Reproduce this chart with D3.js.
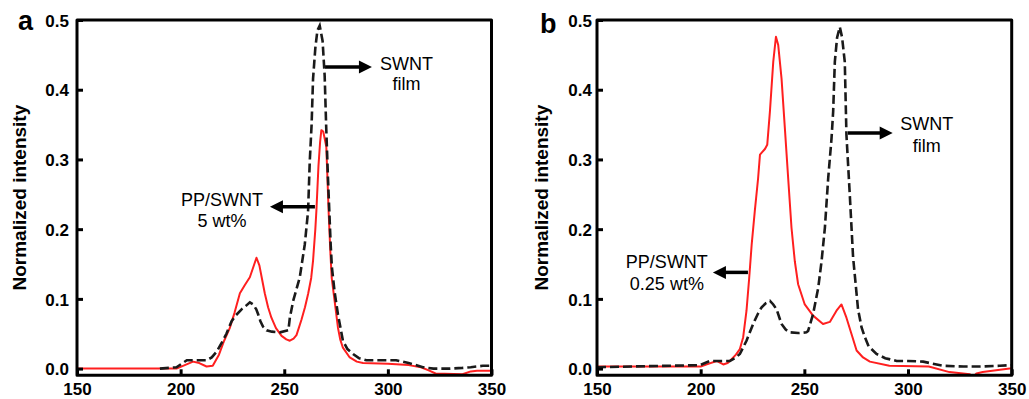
<!DOCTYPE html>
<html>
<head>
<meta charset="utf-8">
<script src="https://cdn.jsdelivr.net/npm/d3@7"></script>
<style>
  html, body { margin: 0; padding: 0; background: #fff; }
  svg { display: block; }
  text { font-family: Arial, "Liberation Sans", sans-serif; }
</style>
</head>
<body>
<svg id="chart" width="1029" height="399"></svg>
<script>
// ---------- data ----------
const xTicks = [150, 200, 250, 300, 350];
const yTicks = [0.0, 0.1, 0.2, 0.3, 0.4, 0.5];
const yTitle = "Normalized intensity";

// Panel a
const aPPSWNT = [[150,0],[198,0],[202,0.005],[206,0.010],[209,0.008],[212.5,0.003],[215.5,0.004],[218.5,0.02],[221,0.04],[223.7,0.058],[226,0.08],[228.6,0.108],[231,0.120],[233.4,0.131],[235,0.145],[236.6,0.159],[238,0.148],[239.5,0.125],[240.6,0.108],[242.2,0.088],[243.8,0.073],[246,0.058],[248.7,0.047],[251,0.042],[252.7,0.040],[254.5,0.043],[255.9,0.048],[257,0.058],[258.3,0.070],[260,0.088],[261.5,0.107],[263,0.13],[263.9,0.155],[265,0.20],[265.5,0.226],[266.5,0.29],[267.3,0.325],[267.9,0.342],[268.8,0.34],[269.5,0.33],[270.3,0.318],[271,0.26],[271.4,0.226],[272.2,0.17],[272.9,0.13],[274.3,0.097],[275.9,0.059],[277,0.042],[278.3,0.030],[281.6,0.016],[285,0.010],[288,0.008],[300,0.007],[310,0.005],[316,0.002],[320,-0.003],[323,-0.007],[336,-0.008],[340,-0.004],[343,-0.003],[350,-0.003]];
const aFilm = [[190,0],[198,0.002],[201,0.008],[203,0.012],[208,0.012],[212.5,0.012],[215,0.016],[217.3,0.024],[220,0.038],[222.1,0.05],[224.6,0.068],[226.5,0.076],[229.4,0.085],[231.5,0.09],[233.4,0.095],[235,0.092],[236.5,0.085],[237.4,0.078],[238.5,0.068],[239.8,0.06],[241.5,0.055],[244,0.053],[248,0.052],[252,0.055],[252.7,0.073],[254.3,0.097],[257.5,0.131],[259.9,0.178],[261.5,0.226],[262.3,0.297],[263.2,0.35],[263.9,0.416],[265,0.46],[266,0.485],[267.1,0.492],[268.5,0.47],[269.5,0.42],[270.2,0.35],[271.1,0.273],[272.4,0.178],[273,0.145],[274.3,0.11],[275.9,0.078],[278.3,0.040],[280.5,0.028],[283.2,0.021],[286,0.015],[289.6,0.012],[296,0.012],[304,0.012],[310,0.008],[316.9,0.002],[322,0.0],[330,0.0],[336,0.001],[340,0.002],[345.8,0.004],[350,0.004]];

// Panel b
const bPPSWNT = [[150,0.003],[200,0.003],[203,0.006],[207.7,0.011],[210.9,0.006],[213,0.008],[214.1,0.011],[217,0.02],[218.9,0.028],[220.5,0.045],[222.1,0.083],[223.4,0.130],[224.6,0.178],[226.1,0.226],[227.7,0.273],[228.6,0.307],[231,0.315],[232.1,0.321],[233.4,0.369],[235,0.44],[236.3,0.476],[237.4,0.464],[239,0.416],[240.6,0.345],[242.2,0.273],[243.8,0.202],[245.4,0.154],[247,0.121],[250.2,0.092],[254.2,0.076],[259,0.064],[262.3,0.067],[265.5,0.083],[267.9,0.092],[270.3,0.073],[272.7,0.05],[275.2,0.026],[278.3,0.016],[281.6,0.010],[291,0.004],[310,0.003],[320,-0.005],[329.8,-0.008],[331.4,-0.012],[333,-0.007],[336,-0.005],[349,0.0],[350,0.001]];
const bFilm = [[150,0.002],[199.6,0.005],[204.5,0.011],[210,0.011],[214.1,0.011],[216.5,0.015],[218.9,0.021],[222.1,0.040],[225.3,0.064],[227.5,0.078],[229.4,0.088],[231.5,0.094],[233.4,0.097],[235,0.092],[236.6,0.085],[239,0.064],[241,0.056],[243,0.052],[247,0.051],[251,0.052],[251.8,0.054],[254.2,0.078],[256.7,0.116],[258.3,0.154],[259.9,0.202],[261.5,0.273],[263.1,0.33],[263.9,0.369],[264.7,0.44],[265.8,0.475],[267.1,0.49],[268.2,0.475],[269.5,0.44],[270.3,0.335],[271.9,0.25],[273.5,0.16],[275.2,0.107],[275.9,0.085],[277.6,0.059],[279.2,0.045],[281,0.032],[284.8,0.021],[289,0.015],[294.5,0.011],[300,0.011],[307.3,0.010],[312,0.007],[317,0.004],[326.7,0.003],[335,0.003],[344.2,0.004],[350,0.005]];

// Annotations (data units): label lines, text anchor point, arrow from -> to
const aFilmNote = {lines: ["SWNT", "film"], x: 309, y: [0.428, 0.400], arrow: [[269.7, 0.4325], [292.3, 0.4325]]};
const aPPNote   = {lines: ["PP/SWNT", "5 wt%"], x: 220, y: [0.233, 0.203], arrow: [[264.8, 0.232], [243.1, 0.232]]};
const bFilmNote = {lines: ["SWNT", "film"], x: 309, y: [0.342, 0.310], arrow: [[271, 0.338], [292.6, 0.338]]};
const bPPNote   = {lines: ["PP/SWNT", "0.25 wt%"], x: 183.7, y: [0.145, 0.1125], arrow: [[222.8, 0.138], [205.9, 0.138]]};

// ---------- drawing ----------
const svg = d3.select("#chart");

const panels = [
  {label: "a", labelX: 18, labelY: 30, left: 77, right: 491.5, titleX: 26, labPad: 8,
   pp: aPPSWNT, film: aFilm, notes: [aFilmNote, aPPNote]},
  {label: "b", labelX: 540, labelY: 33, left: 597, right: 1011.7, titleX: 548, labPad: 5,
   pp: bPPSWNT, film: bFilm, notes: [bFilmNote, bPPNote]}
];

const plotTop = 20, plotBottom = 375.3;

panels.forEach(p => {
  const x = d3.scaleLinear().domain([150, 350]).range([p.left, p.right]);
  const y = d3.scaleLinear().domain([-0.0096, 0.5]).range([plotBottom, plotTop]);
  const g = svg.append("g");

  const clipId = "clip-" + p.label;
  svg.append("clipPath").attr("id", clipId).append("rect")
    .attr("x", p.left).attr("y", plotTop - 5).attr("width", p.right - p.left).attr("height", plotBottom - plotTop + 5);

  const line = d3.line().x(d => x(d[0])).y(d => y(d[1]));

  // curves
  g.append("path").datum(p.pp)
    .attr("d", line).attr("fill", "none")
    .attr("stroke", "#ff1f1f").attr("stroke-width", 2)
    .attr("stroke-linejoin", "round")
    .attr("clip-path", `url(#${clipId})`);
  g.append("path").datum(p.film)
    .attr("d", line).attr("fill", "none")
    .attr("stroke", "#1a1a1a").attr("stroke-width", 2.6)
    .attr("stroke-dasharray", "9,4")
    .attr("clip-path", `url(#${clipId})`);

  // frame
  g.append("rect")
    .attr("x", p.left).attr("y", plotTop)
    .attr("width", p.right - p.left).attr("height", plotBottom - plotTop)
    .attr("fill", "none").attr("stroke", "#000").attr("stroke-width", 3)
    .attr("stroke-linejoin", "round");

  // y axis
  const yAxis = d3.axisLeft(y).tickValues(yTicks).tickFormat(d3.format(".1f"))
    .tickSizeInner(-6).tickSizeOuter(0).tickPadding(p.labPad);
  const ya = g.append("g").attr("transform", `translate(${p.left},0)`).call(yAxis);
  ya.select(".domain").remove();
  ya.selectAll(".tick line").attr("stroke", "#000").attr("stroke-width", 3);
  ya.selectAll(".tick text").attr("font-family", "Arial, 'Liberation Sans', sans-serif")
    .attr("font-size", 17).attr("font-weight", "bold").attr("fill", "#000")
    .attr("dy", "0.36em");

  // x axis
  const xAxis = d3.axisBottom(x).tickValues(xTicks).tickFormat(d3.format("d"))
    .tickSizeInner(-6).tickSizeOuter(0).tickPadding(7.5);
  const xa = g.append("g").attr("transform", `translate(0,${plotBottom})`).call(xAxis);
  xa.select(".domain").remove();
  xa.selectAll(".tick line").attr("stroke", "#000").attr("stroke-width", 3);
  xa.selectAll(".tick text").attr("font-family", "Arial, 'Liberation Sans', sans-serif")
    .attr("font-size", 17).attr("font-weight", "bold").attr("fill", "#000");

  // y title
  g.append("text")
    .attr("transform", `translate(${p.titleX},${(plotTop + plotBottom) / 2}) rotate(-90)`)
    .attr("text-anchor", "middle")
    .attr("font-size", 19).attr("font-weight", "bold").attr("fill", "#000")
    .text(yTitle);

  // panel label
  g.append("text").attr("x", p.labelX).attr("y", p.labelY)
    .attr("font-size", 27).attr("font-weight", "bold").attr("fill", "#000")
    .text(p.label);

  // annotations
  p.notes.forEach(n => {
    n.lines.forEach((t, i) => {
      g.append("text").attr("x", x(n.x)).attr("y", y(n.y[i]))
        .attr("text-anchor", "middle").attr("font-size", 18).attr("fill", "#000")
        .text(t);
    });
    const [from, to] = n.arrow;
    const x0 = x(from[0]), y0 = y(from[1]), x1 = x(to[0]), y1 = y(to[1]);
    const dir = Math.sign(x1 - x0);
    const headLen = 13, headHalf = 6.5;
    g.append("line")
      .attr("x1", x0).attr("y1", y0).attr("x2", x1 - dir * headLen + dir).attr("y2", y1)
      .attr("stroke", "#000").attr("stroke-width", 3.5);
    g.append("path")
      .attr("d", d3.line()([[x1, y1], [x1 - dir * headLen, y1 - headHalf], [x1 - dir * headLen, y1 + headHalf]]) + "Z")
      .attr("fill", "#000");
  });
});
</script>
</body>
</html>
